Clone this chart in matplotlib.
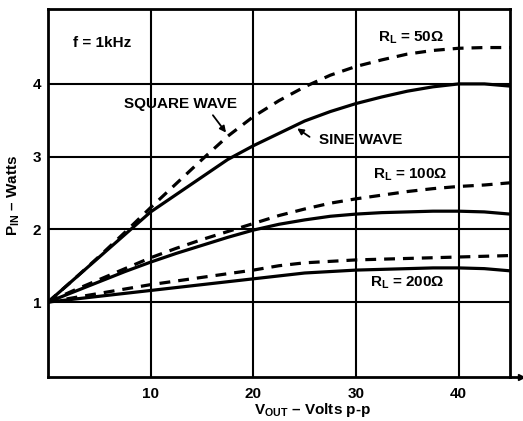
import matplotlib
matplotlib.use("Agg")
import matplotlib.pyplot as plt

plt.rcParams['font.family'] = ['Liberation Sans', 'DejaVu Sans']
plt.rcParams['font.weight'] = 'bold'
plt.rcParams['mathtext.fontset'] = 'custom'
plt.rcParams['mathtext.rm'] = 'Liberation Sans:bold'
plt.rcParams['mathtext.it'] = 'Liberation Sans:bold'
plt.rcParams['mathtext.bf'] = 'Liberation Sans:bold'

# ---- data ----
v_out = [0, 2.5, 5, 7.5, 10, 12.5, 15, 17.5, 20, 22.5, 25, 27.5, 30,
         32.5, 35, 37.5, 40, 42.5, 45]

square_50 = [1.00, 1.31, 1.63, 1.96, 2.30, 2.63, 2.96, 3.28, 3.55, 3.77,
             3.96, 4.12, 4.24, 4.33, 4.41, 4.46, 4.49, 4.50, 4.50]
sine_50 = [1.00, 1.31, 1.62, 1.93, 2.24, 2.48, 2.72, 2.96, 3.15, 3.32,
           3.49, 3.62, 3.73, 3.82, 3.90, 3.96, 4.00, 4.00, 3.97]
square_100 = [1.00, 1.16, 1.31, 1.46, 1.61, 1.74, 1.86, 1.97, 2.08, 2.19,
              2.28, 2.36, 2.42, 2.47, 2.52, 2.56, 2.59, 2.61, 2.64]
sine_100 = [1.00, 1.14, 1.28, 1.42, 1.55, 1.67, 1.78, 1.89, 1.99, 2.07,
            2.13, 2.18, 2.21, 2.23, 2.24, 2.25, 2.25, 2.24, 2.21]
square_200 = [1.00, 1.06, 1.12, 1.18, 1.24, 1.29, 1.34, 1.39, 1.44, 1.50,
              1.54, 1.56, 1.58, 1.59, 1.60, 1.61, 1.62, 1.63, 1.64]
sine_200 = [1.00, 1.04, 1.08, 1.12, 1.16, 1.20, 1.24, 1.28, 1.32, 1.36,
            1.40, 1.42, 1.44, 1.45, 1.46, 1.47, 1.47, 1.46, 1.43]

x_ticks = [10, 20, 30, 40]
x_tick_labels = ['10', '20', '30', '40']
y_ticks = [1, 2, 3, 4]
y_tick_labels = ['1', '2', '3', '4']

# ---- figure ----
W, H = 523, 421
fig = plt.figure(figsize=(W / 100, H / 100), dpi=100)
fig.patch.set_facecolor('white')
ax = fig.add_axes([48 / W, 1 - 377 / H, (510 - 48) / W, (377 - 9) / H])
ax.set_xlim(0, 45)
ax.set_ylim(-0.03, 5.03)

FS = 11
ax.set_xticks(x_ticks)
ax.set_xticklabels(x_tick_labels, fontsize=FS, fontweight='bold')
ax.set_yticks(y_ticks)
ax.set_yticklabels(y_tick_labels, fontsize=FS, fontweight='bold')
ax.tick_params(length=0)
ax.tick_params(axis='y', pad=5)
ax.tick_params(axis='x', pad=7.5)
ax.grid(True, color='black', linewidth=1.5)
ax.set_axisbelow(True)
for s in ax.spines.values():
    s.set_linewidth(2.0)
    s.set_color('black')

LW = 2.3
dash = (3.4, 2.5)
for sq, sn in [(square_50, sine_50), (square_100, sine_100), (square_200, sine_200)]:
    ax.plot(v_out, sq, color='black', linewidth=LW, dashes=dash)
    ax.plot(v_out, sn, color='black', linewidth=LW, solid_capstyle='butt')

# extended x-axis with arrow tip
ax.plot([45, 46.05], [-0.03, -0.03], color='black', linewidth=2.0, clip_on=False)
ax.plot([46.05], [-0.03], marker='>', color='black', markersize=5, clip_on=False)

# annotations
ax.text(2.4, 4.56, 'f = 1kHz', fontsize=FS, fontweight='bold', ha='left', va='center')
ax.text(12.9, 3.72, 'SQUARE WAVE', fontsize=FS, fontweight='bold', ha='center', va='center')
ax.annotate('', xy=(17.5, 3.30), xytext=(15.9, 3.60),
            arrowprops=dict(arrowstyle='-|>', color='black', lw=1.3, mutation_scale=9))
ax.text(30.5, 3.23, 'SINE WAVE', fontsize=FS, fontweight='bold', ha='center', va='center')
ax.annotate('', xy=(24.05, 3.41), xytext=(25.7, 3.25),
            arrowprops=dict(arrowstyle='-|>', color='black', lw=1.3, mutation_scale=9))
ax.text(35.4, 4.63, r'R$_\mathrm{L}$ = 50Ω', fontsize=FS, fontweight='bold', ha='center', va='center')
ax.text(35.3, 2.745, r'R$_\mathrm{L}$ = 100Ω', fontsize=FS, fontweight='bold', ha='center', va='center')
ax.text(35.0, 1.26, r'R$_\mathrm{L}$ = 200Ω', fontsize=FS, fontweight='bold', ha='center', va='center')

ax.set_xlabel(r'V$_\mathrm{OUT}$ – Volts p-p', fontsize=FS, fontweight='bold')
ax.set_ylabel(r'P$_\mathrm{IN}$ – Watts', fontsize=FS, fontweight='bold')
ax.xaxis.set_label_coords((312 - 48) / 462, (377 - 410) / 368)
ax.yaxis.set_label_coords((14 - 48) / 462, (377 - 195) / 368)
ax.xaxis.label.set_va('center')
ax.yaxis.label.set_va('center')

fig.savefig('out.png', dpi=100, facecolor='white')
